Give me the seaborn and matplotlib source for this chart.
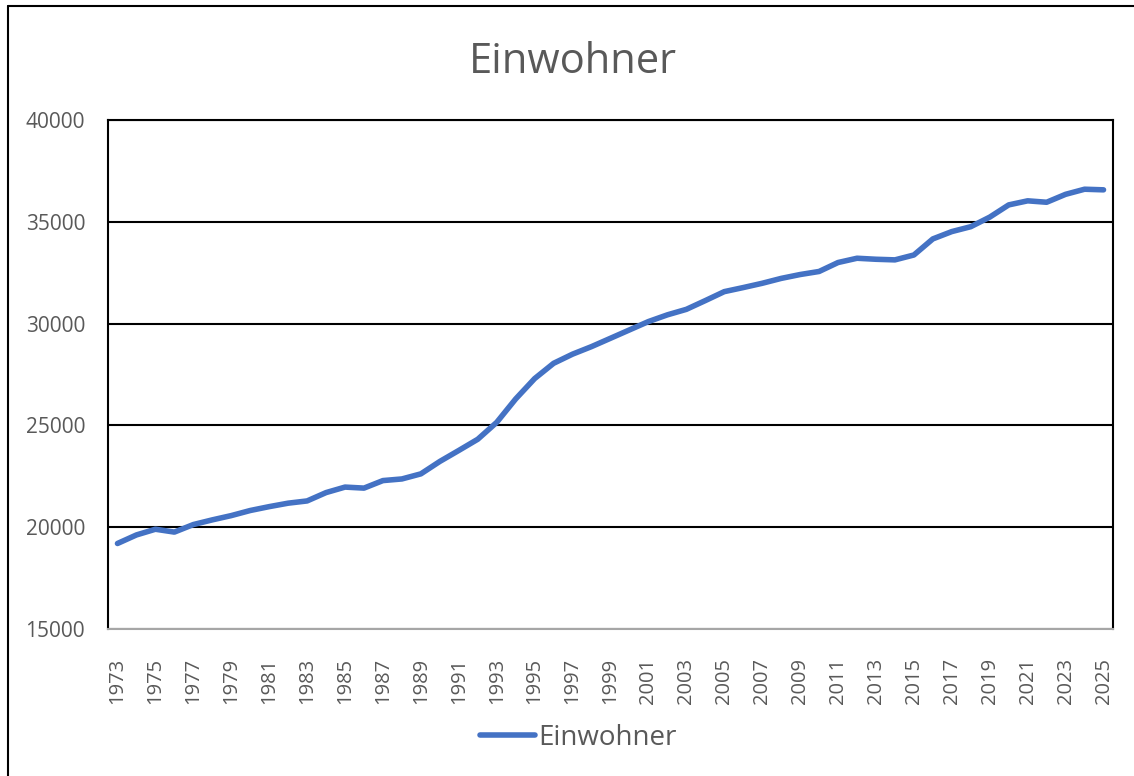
"""Einwohner 1973-2025 als Liniendiagramm (Excel-Stil) mit seaborn."""

import matplotlib
matplotlib.use("Agg")
import matplotlib.pyplot as plt
from matplotlib.lines import Line2D
import pandas as pd
import seaborn as sns

# ── Daten ────────────────────────────────────────────────────────────────
YEARS = list(range(1973, 2026))
EINWOHNER = [
    19200, 19620, 19900, 19760, 20130, 20360, 20570, 20820, 21010, 21180,
    21290, 21700, 21970, 21920, 22290, 22370, 22620, 23230, 23770, 24320,
    25150, 26300, 27300, 28050, 28500, 28870, 29280, 29690, 30100, 30430,
    30700, 31130, 31570, 31770, 31980, 32220, 32410, 32560, 33000, 33210,
    33160, 33130, 33370, 34160, 34520, 34760, 35230, 35830, 36030, 35960,
    36350, 36600, 36570,
]
Y_TICKS = [15000, 20000, 25000, 30000, 35000, 40000]
X_TICKS = YEARS[::2]

LINE_COLOR = "#4472C4"
TEXT_COLOR = "#595959"

sns.set_theme(style="white")
plt.rcParams["font.family"] = ["Open Sans", "DejaVu Sans"]

df = pd.DataFrame({"Jahr": YEARS, "Einwohner": EINWOHNER})

fig = plt.figure(figsize=(11.34, 7.76), dpi=100)
ax = fig.add_axes([108 / 1134, 1 - 629 / 776, (1113 - 108) / 1134, (629 - 120) / 776])

sns.lineplot(data=df, x="Jahr", y="Einwohner", ax=ax, color=LINE_COLOR,
             linewidth=4, label="Einwohner", solid_capstyle="round",
             solid_joinstyle="round", legend=False)

ax.set_xlim(YEARS[0] - 0.5, YEARS[-1] + 0.5)
ax.set_ylim(Y_TICKS[0], Y_TICKS[-1])
ax.set_yticks(Y_TICKS)
ax.set_xticks(X_TICKS)
ax.set_xticklabels([str(y) for y in X_TICKS], rotation=90)
ax.set_xlabel("")
ax.set_ylabel("")

ax.grid(axis="y", color="black", linewidth=1.5)
ax.grid(axis="x", visible=False)
ax.set_axisbelow(True)

ax.tick_params(axis="y", length=0, pad=16.5, labelsize=15, labelcolor=TEXT_COLOR)
ax.tick_params(axis="x", length=0, pad=21, labelsize=14.5, labelcolor=TEXT_COLOR)

for side in ("top", "left", "right"):
    ax.spines[side].set_color("black")
    ax.spines[side].set_linewidth(1.5)
ax.spines["bottom"].set_color("#A6A6A6")
ax.spines["bottom"].set_linewidth(1.5)

# Titel
fig.text(573 / 1134, 1 - 73 / 776, "Einwohner", ha="center", va="baseline",
         fontsize=30, color=TEXT_COLOR)

# Legende unten
handle = Line2D([], [], color=LINE_COLOR, linewidth=4, solid_capstyle="round")
fig.legend([handle], ["Einwohner"], loc="center",
           bbox_to_anchor=(578 / 1134, 1 - 738 / 776), frameon=False,
           fontsize=20, handlelength=2.0, handletextpad=0.1,
           labelcolor=TEXT_COLOR)

# Rahmen des Diagrammbereichs (links und oben sichtbar)
fig.add_artist(Line2D([8 / 1134, 8 / 1134], [0, 1 - 6 / 776],
                      transform=fig.transFigure, color="black", linewidth=1.5))
fig.add_artist(Line2D([8 / 1134, 1], [1 - 6 / 776, 1 - 6 / 776],
                      transform=fig.transFigure, color="black", linewidth=1.5))

fig.savefig("out.png", dpi=100)
plt.close(fig)
